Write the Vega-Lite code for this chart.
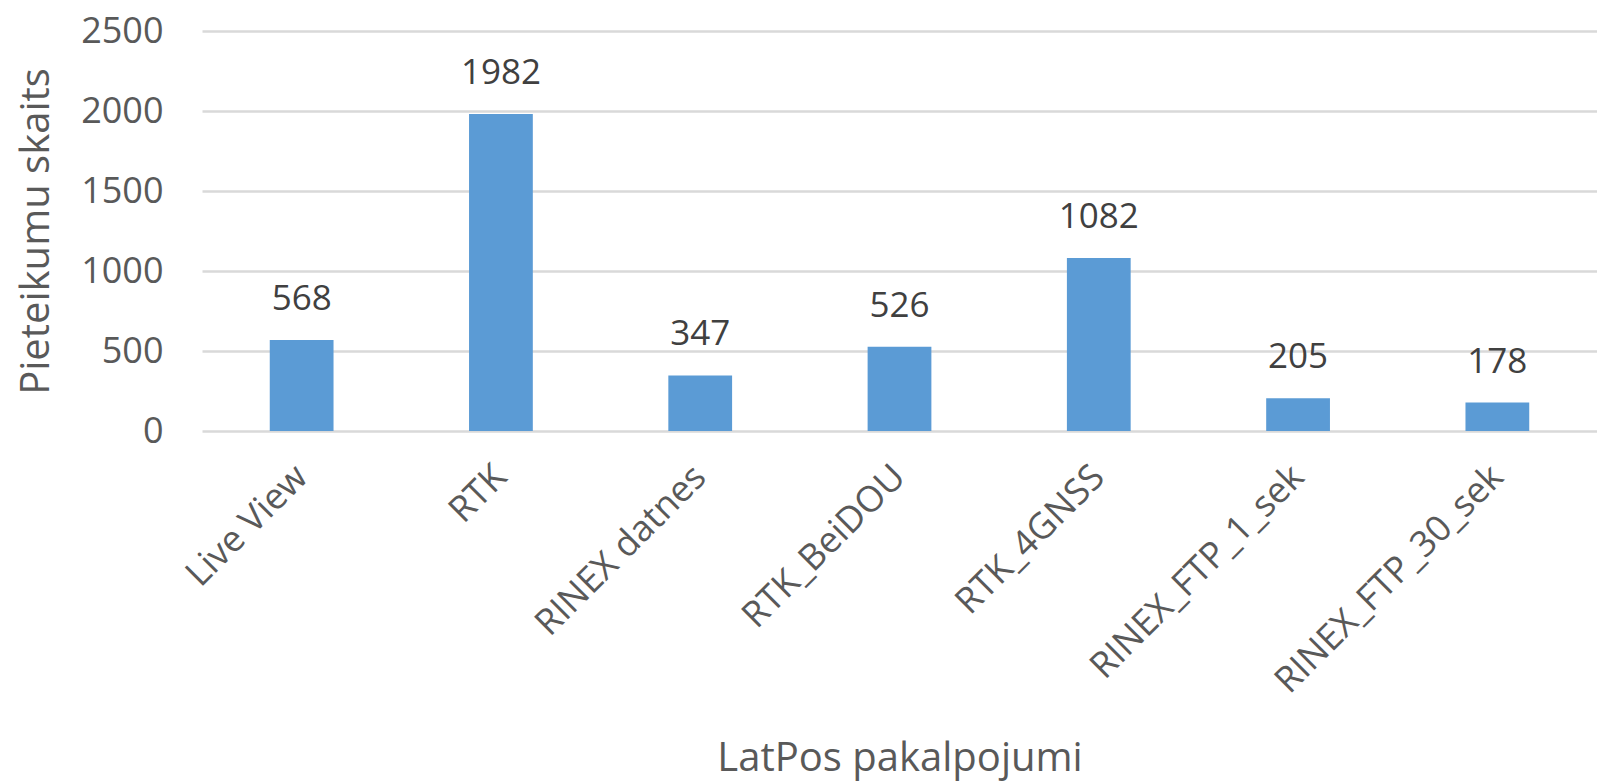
{
  "$schema": "https://vega.github.io/schema/vega-lite/v6.json",
  "autosize": "none",
  "width": 1395,
  "height": 400,
  "padding": {"left": 202, "top": 31, "right": 0, "bottom": 351},
  "background": "white",
  "config": {
    "view": {"stroke": null},
    "font": "Open Sans"
  },
  "data": {
    "values": [
      {"service": "Live View", "count": 568},
      {"service": "RTK", "count": 1982},
      {"service": "RINEX datnes", "count": 347},
      {"service": "RTK_BeiDOU", "count": 526},
      {"service": "RTK_4GNSS", "count": 1082},
      {"service": "RINEX_FTP_1_sek", "count": 205},
      {"service": "RINEX_FTP_30_sek", "count": 178}
    ]
  },
  "encoding": {
    "x": {
      "field": "service",
      "type": "nominal",
      "sort": null,
      "scale": {"paddingInner": 0, "paddingOuter": 0},
      "axis": {
        "title": "LatPos pakalpojumi",
        "titleFontSize": 40,
        "titleFontWeight": "normal",
        "titleColor": "#595959",
        "titleY": 339,
        "titleBaseline": "alphabetic",
        "labelAngle": -45,
        "labelAlign": "right",
        "labelBaseline": "middle",
        "labelFontSize": 36,
        "labelColor": "#595959",
        "labelPadding": 40,
        "labelLimit": 0,
        "labelOverlap": false,
        "ticks": false,
        "domain": false
      }
    },
    "y": {
      "field": "count",
      "type": "quantitative",
      "scale": {"domain": [0, 2500], "nice": false},
      "axis": {
        "title": "Pieteikumu skaits",
        "titleFontSize": 40,
        "titleFontWeight": "normal",
        "titleColor": "#595959",
        "titleX": -154,
        "titleBaseline": "alphabetic",
        "values": [0, 500, 1000, 1500, 2000, 2500],
        "format": "d",
        "labelFontSize": 36,
        "labelColor": "#595959",
        "labelPadding": 39,
        "ticks": false,
        "domain": false,
        "gridColor": "#D9D9D9",
        "gridWidth": 2.5
      }
    }
  },
  "layer": [
    {
      "mark": {"type": "bar", "color": "#5B9BD5", "width": {"band": 0.32}}
    },
    {
      "mark": {"type": "text", "baseline": "alphabetic", "dy": -30, "fontSize": 35, "color": "#404040"},
      "encoding": {"text": {"field": "count", "type": "quantitative"}}
    }
  ]
}
